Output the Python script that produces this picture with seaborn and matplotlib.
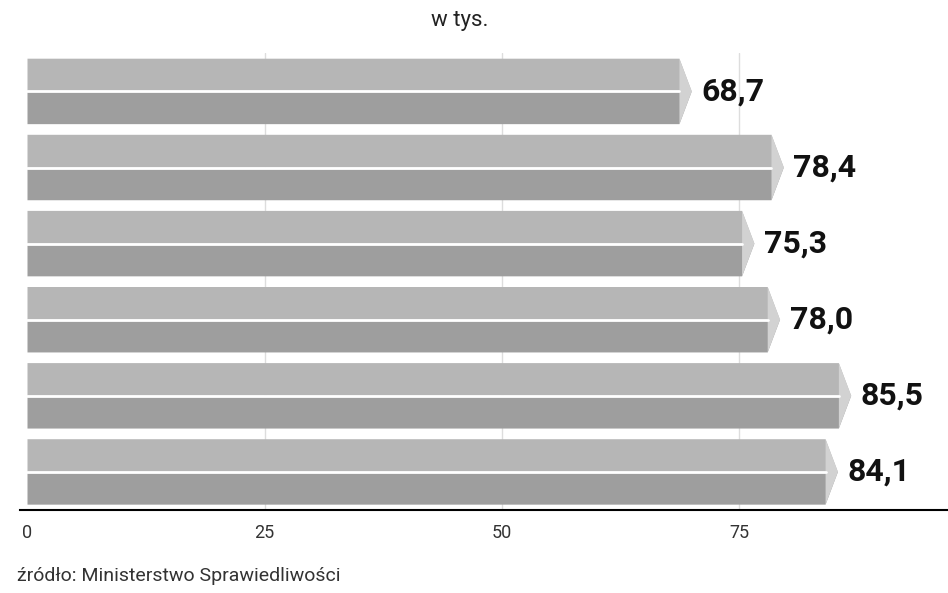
import matplotlib
matplotlib.use("Agg")
import matplotlib.pyplot as plt
import seaborn as sns
import pandas as pd
import numpy as np
from matplotlib.patches import Polygon

categories = ["a", "b", "c", "d", "e", "f"]
values = [68.7, 78.4, 75.3, 78.0, 85.5, 84.1]
labels = ["68,7", "78,4", "75,3", "78,0", "85,5", "84,1"]
xticks = [0, 25, 50, 75]

sns.set_style("white")
plt.rcParams['font.family'] = ['Roboto', 'DejaVu Sans']

df = pd.DataFrame({"cat": categories, "val": values})
fig = plt.figure(figsize=(9.48, 5.93), dpi=100)
ax = fig.add_axes([0.021, 0.14, 0.979, 0.77])
for x in [25, 50, 75]:
    ax.axvline(x, color="#dddddd", lw=1, zorder=0)
sns.barplot(data=df, y="cat", x="val", orient="h", color="#9c9c9c",
            saturation=1, width=0.86, ax=ax, zorder=2)

tip = 1.3
for p, lab in zip(ax.patches, labels):
    x0, y0 = p.get_x(), p.get_y()
    w, h = p.get_width(), p.get_height()
    p.set_visible(False)
    ym = y0 + h / 2
    top, bot = y0, y0 + h
    ax.add_patch(Polygon([(x0, ym), (x0 + w + tip, ym), (x0 + w, bot), (x0, bot)],
                         closed=True, fc="#9e9e9e", ec="none", zorder=3))
    ax.add_patch(Polygon([(x0, top), (x0 + w, top), (x0 + w + tip, ym), (x0, ym)],
                         closed=True, fc="#b6b6b6", ec="none", zorder=3))
    ax.add_patch(Polygon([(x0 + w, top), (x0 + w + tip, ym), (x0 + w, bot)],
                         closed=True, fc="#d2d2d2", ec="none", zorder=3))
    ax.plot([x0, x0 + w], [ym, ym], color="white", lw=2, zorder=4)
    ax.text(x0 + w + tip + 1.0, ym, lab, va="center", ha="left",
            fontsize=23, fontweight="bold", color="#111111", zorder=5)

ax.set_xlim(-0.8, 97)
ax.set_ylim(5.5, -0.5)
ax.set_xticks(xticks)
ax.set_xticklabels([str(t) for t in xticks], fontsize=13, color="#333333")
ax.set_yticks(np.arange(-0.5, 6, 1))
ax.set_yticklabels([])
ax.tick_params(axis="y", length=5, width=2, color="black", direction="in")
ax.tick_params(axis="x", length=0, pad=10)
ax.set_xlabel(""); ax.set_ylabel("")
for s in ["top", "right", "left"]:
    ax.spines[s].set_visible(False)
ax.spines["bottom"].set_color("black")
ax.spines["bottom"].set_linewidth(1.5)

fig.text(0.485, 0.965, "w tys.", ha="center", va="center", fontsize=16, color="#222222")
fig.text(0.018, 0.028, "źródło: Ministerstwo Sprawiedliwości", ha="left", va="center",
         fontsize=14, color="#333333")
fig.savefig("out.png", dpi=100)
